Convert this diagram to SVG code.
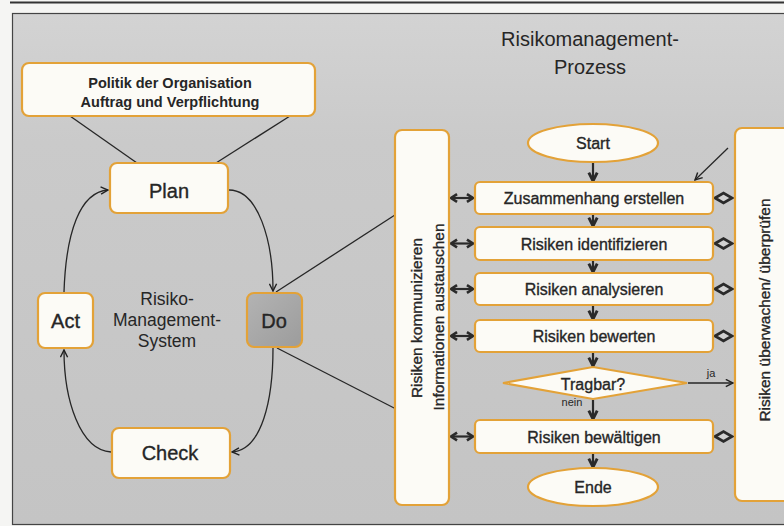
<svg xmlns="http://www.w3.org/2000/svg" width="784" height="526" viewBox="0 0 784 526">
<defs>
<linearGradient id="bg" x1="0" y1="0" x2="0" y2="1">
<stop offset="0" stop-color="#d3d3d3"/>
<stop offset="0.25" stop-color="#cacaca"/>
<stop offset="1" stop-color="#c4c4c4"/>
</linearGradient>
<linearGradient id="dog" x1="0" y1="0" x2="1" y2="1">
<stop offset="0" stop-color="#b3b3b3"/>
<stop offset="1" stop-color="#9c9c9c"/>
</linearGradient>
<marker id="open" viewBox="0 0 10 10" refX="9" refY="5" markerWidth="9" markerHeight="9" markerUnits="userSpaceOnUse" orient="auto">
<path d="M1,1 L9,5 L1,9" fill="none" stroke="#222" stroke-width="1.6"/>
</marker>
<marker id="flow" viewBox="0 0 10 10" refX="8.5" refY="5" markerWidth="12" markerHeight="12" markerUnits="userSpaceOnUse" orient="auto">
<path d="M1.5,1.5 L8.5,5 L1.5,8.5" fill="none" stroke="#2a2a2a" stroke-width="2.4"/>
</marker>
<marker id="dbl" viewBox="0 0 10 10" refX="8" refY="5" markerWidth="11" markerHeight="11" markerUnits="userSpaceOnUse" orient="auto-start-reverse">
<path d="M2.5,1.5 L8,5 L2.5,8.5" fill="none" stroke="#2a2a2a" stroke-width="2.4"/>
</marker>
</defs>
<style>
.box{fill:#fcfbf6;stroke:#e3a238;stroke-width:2.2}
.t{font-family:"Liberation Sans",Arial,sans-serif;fill:#262626;text-anchor:middle}
.h{stroke:#262626;stroke-width:0.35}
.ln{fill:none;stroke:#262626;stroke-width:1.3}
.fl{fill:none;stroke:#2a2a2a;stroke-width:2.2}
.dm{fill:#d0d0d0;stroke:#2a2a2a;stroke-width:2.8;stroke-linejoin:miter}
</style>
<rect x="0" y="0" width="784" height="526" fill="#f5f5f3"/>
<line x1="10" y1="2.5" x2="784" y2="2.5" stroke="#333" stroke-width="2"/>
<rect x="12.5" y="13.5" width="780" height="511" fill="url(#bg)" stroke="#444" stroke-width="1.2"/>

<g id="connectors">
<line class="ln" x1="70" y1="116" x2="137" y2="163"/>
<line class="ln" x1="290" y1="116" x2="216" y2="163"/>
<path class="ln" d="M64,292 C66,232 80,192 108,190" marker-end="url(#open)"/>
<path class="ln" d="M229,190 C258,190 273,240 273,291" marker-end="url(#open)"/>
<path class="ln" d="M273,348 C273,400 262,450 232,452" marker-end="url(#open)"/>
<path class="ln" d="M111,452 C80,450 64,400 64,350" marker-end="url(#open)"/>
<line class="ln" x1="398" y1="213" x2="276" y2="292"/>
<line class="ln" x1="277" y1="348" x2="398" y2="410"/>
<line class="ln" x1="728" y1="148" x2="695" y2="180" marker-end="url(#open)"/>
<line class="fl" x1="593" y1="163" x2="593" y2="181" marker-end="url(#flow)"/>
<line class="fl" x1="593" y1="215" x2="593" y2="226" marker-end="url(#flow)"/>
<line class="fl" x1="593" y1="261" x2="593" y2="272" marker-end="url(#flow)"/>
<line class="fl" x1="593" y1="306" x2="593" y2="319" marker-end="url(#flow)"/>
<line class="fl" x1="593" y1="353" x2="593" y2="366" marker-end="url(#flow)"/>
<line class="fl" x1="593" y1="400" x2="593" y2="419" marker-end="url(#flow)"/>
<line class="fl" x1="593" y1="454" x2="593" y2="467" marker-end="url(#flow)"/>
<line class="ln" x1="688" y1="383" x2="733" y2="383" marker-end="url(#open)"/>
<line class="fl" x1="451" y1="198" x2="473" y2="198" marker-start="url(#dbl)" marker-end="url(#dbl)"/>
<line class="fl" x1="451" y1="243.5" x2="473" y2="243.5" marker-start="url(#dbl)" marker-end="url(#dbl)"/>
<line class="fl" x1="451" y1="289" x2="473" y2="289" marker-start="url(#dbl)" marker-end="url(#dbl)"/>
<line class="fl" x1="451" y1="336" x2="473" y2="336" marker-start="url(#dbl)" marker-end="url(#dbl)"/>
<line class="fl" x1="451" y1="436.5" x2="473" y2="436.5" marker-start="url(#dbl)" marker-end="url(#dbl)"/>
<path class="dm" d="M715,198 L723.5,193 L732,198 L723.5,203 Z"/>
<path class="dm" d="M715,243.5 L723.5,238.5 L732,243.5 L723.5,248.5 Z"/>
<path class="dm" d="M715,289 L723.5,284 L732,289 L723.5,294 Z"/>
<path class="dm" d="M715,336 L723.5,331 L732,336 L723.5,341 Z"/>
<path class="dm" d="M715,436.5 L723.5,431.5 L732,436.5 L723.5,441.5 Z"/>
<text class="t" x="711" y="377" font-size="11">ja</text>
<text class="t" x="572" y="406" font-size="11">nein</text>
</g>

<g id="politik">
<rect class="box" x="22" y="63" width="293" height="53" rx="7"/>
<text class="t" x="170" y="88" font-size="14.5" font-weight="bold">Politik der Organisation</text>
<text class="t" x="170" y="107" font-size="14.5" font-weight="bold">Auftrag und Verpflichtung</text>
</g>
<g id="plan">
<rect class="box" x="110" y="163" width="118" height="50" rx="7"/>
<text class="t h" x="169" y="198" font-size="20">Plan</text>
</g>
<g id="act">
<rect class="box" x="38" y="293" width="55" height="55" rx="7"/>
<text class="t h" x="65.5" y="328" font-size="20">Act</text>
</g>
<g id="do">
<rect x="247" y="293" width="55" height="54" rx="7" fill="url(#dog)" stroke="#e3a238" stroke-width="2.2"/>
<text class="t h" x="274" y="328" font-size="20">Do</text>
</g>
<g id="check">
<rect class="box" x="112" y="428" width="118" height="50" rx="7"/>
<text class="t h" x="170" y="460" font-size="20">Check</text>
</g>
<g id="rms-label">
<text class="t" x="167" y="305" font-size="17.5">Risiko-</text>
<text class="t" x="167" y="326" font-size="17.5">Management-</text>
<text class="t" x="167" y="347" font-size="17.5">System</text>
</g>
<g id="title">
<text class="t" x="590" y="46" font-size="20">Risikomanagement-</text>
<text class="t" x="590" y="74" font-size="20">Prozess</text>
</g>
<g id="kommunizieren">
<rect class="box" x="395" y="130" width="54" height="375" rx="7"/>
<text class="t h" transform="translate(422,318) rotate(-90)" font-size="15.5">Risiken kommunizieren</text>
<text class="t h" transform="translate(444,317) rotate(-90)" font-size="15.5">Informationen austauschen</text>
</g>
<g id="ueberwachen">
<rect class="box" x="735" y="128" width="70" height="373" rx="7"/>
<text class="t h" transform="translate(770,310) rotate(-90)" font-size="15.5">Risiken überwachen/ überprüfen</text>
</g>
<g id="start">
<ellipse class="box" cx="593" cy="143" rx="65" ry="19"/>
<text class="t h" x="593" y="149" font-size="16">Start</text>
</g>
<g id="zusammenhang">
<rect class="box" x="475" y="182" width="238" height="32" rx="5"/>
<text class="t h" x="594" y="204" font-size="16">Zusammenhang erstellen</text>
</g>
<g id="identifizieren">
<rect class="box" x="475" y="227" width="238" height="33" rx="5"/>
<text class="t h" x="594" y="249.5" font-size="16">Risiken identifizieren</text>
</g>
<g id="analysieren">
<rect class="box" x="475" y="273" width="238" height="32" rx="5"/>
<text class="t h" x="594" y="295" font-size="16">Risiken analysieren</text>
</g>
<g id="bewerten">
<rect class="box" x="475" y="320" width="238" height="32" rx="5"/>
<text class="t h" x="594" y="342" font-size="16">Risiken bewerten</text>
</g>
<g id="tragbar">
<path class="box" d="M503,383 L593,367 L687,383 L593,399 Z"/>
<text class="t h" x="593" y="390" font-size="16">Tragbar?</text>
</g>
<g id="bewaeltigen">
<rect class="box" x="475" y="420" width="238" height="33" rx="5"/>
<text class="t h" x="594" y="442.5" font-size="16">Risiken bewältigen</text>
</g>
<g id="ende">
<ellipse class="box" cx="593" cy="487" rx="65" ry="19"/>
<text class="t h" x="593" y="493" font-size="16">Ende</text>
</g>
</svg>
